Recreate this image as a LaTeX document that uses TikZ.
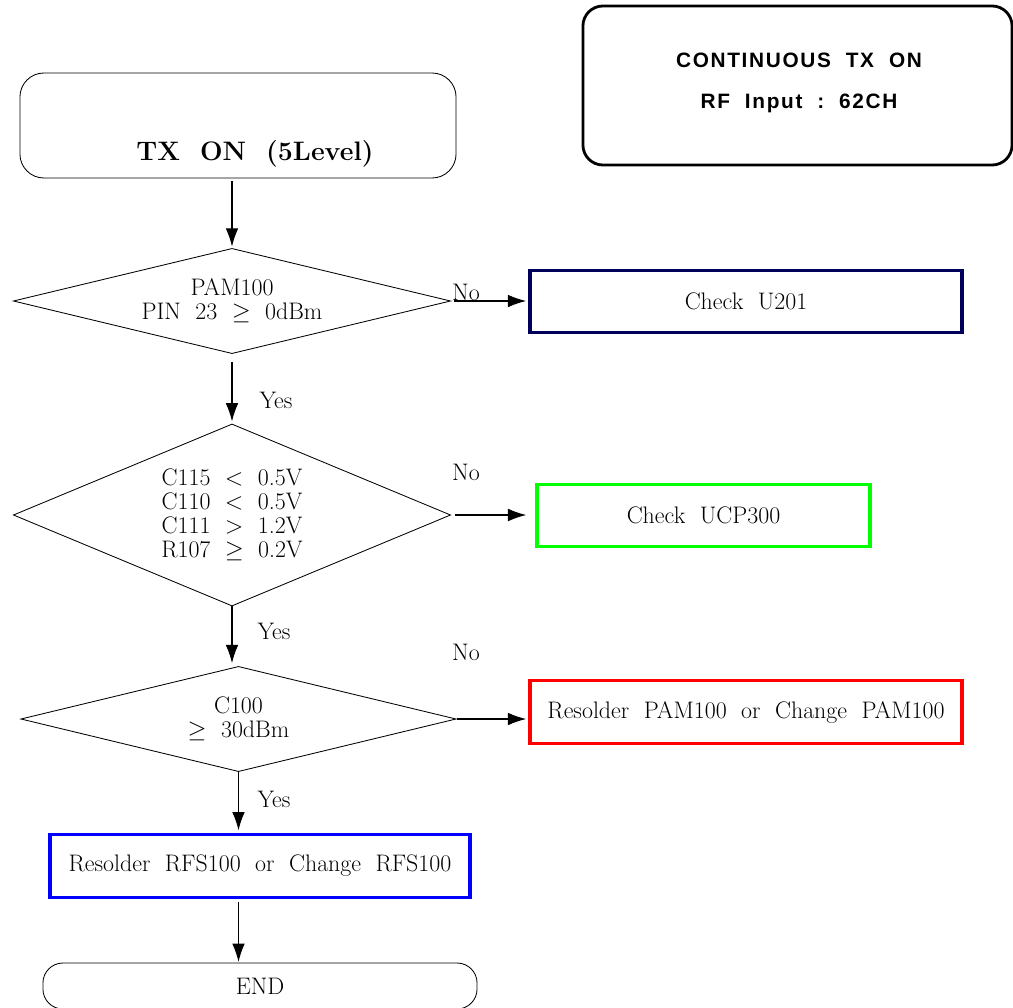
\documentclass[tikz,border=0pt]{standalone}
\usepackage{fontspec}
\usepackage{amssymb}
\usetikzlibrary{shapes,arrows.meta}
\newfontfamily\infofont[LetterSpace=8]{Liberation Sans}
\definecolor{navyline}{RGB}{0,0,90}
\definecolor{greenline}{RGB}{0,255,0}
\definecolor{redline}{RGB}{255,0,0}
\definecolor{blueline}{RGB}{0,0,255}

\begin{document}
\begin{tikzpicture}[x=0.025cm, y=-0.025cm,
				decision/.style={draw, diamond, aspect=#1, inner sep=0pt, line width=0.6pt, align=center},
				checkbox/.style={draw, rectangle, line width=2.4pt, minimum height=1.56cm},
				roundbox/.style={draw, rectangle, line width=0.6pt},
				flow/.style={->, line width=0.8pt},
				>={Latex[length=13pt,width=9pt]},   %Pfeilspitzen
				font={\fontsize{17}{17}\selectfont}]
				\useasboundingbox (0,0) rectangle (1013,1007);
				% Kopf
				\node[roundbox, line width=2pt, minimum width=10.725cm, minimum height=3.975cm, rounded corners=0.5cm] (info) at (797.5,85.5) {};
				\node[align=center, font={\infofont\bfseries\fontsize{14.8}{29}\selectfont}] (infotext) at (799,82.5) {CONTINUOUS~~TX~~ON\\RF~~Input~~:~~62CH};
				\node[roundbox, minimum width=10.9cm, minimum height=2.625cm, rounded corners=0.6cm] (start) at (238,125.5) {};
				\node[font={\fontsize{19}{22}\selectfont\bfseries}] (starttext) at (255,153.5) {TX~~ON~~(5Level)};
				% Abfragen
				\node[decision=4, minimum width=10.93cm, minimum height=2.63cm] (d1) at (232,301) {PAM100\\PIN~~23~~$\geq$~~0dBm};
				\node[decision=2.4, minimum width=10.93cm, minimum height=4.55cm] (d2) at (232,515) {C115~~$<$~~0.5V\\C110~~$<$~~0.5V\\C111~~$>$~~1.2V\\R107~~$\geq$~~0.2V};
				\node[decision=4, minimum width=10.88cm, minimum height=2.63cm] (d3) at (238.5,719) {C100\\$\geq$~~30dBm};
				% Massnahmen
				\node[checkbox, draw=navyline, minimum width=10.8cm] (u201) at (746,301.5) {Check~~U201};
				\node[checkbox, draw=greenline, minimum width=8.325cm] (ucp) at (703.5,515.5) {Check~~UCP300};
				\node[checkbox, draw=redline, minimum width=10.8cm] (pam) at (746,712) {Resolder~~PAM100~~or~~Change~~PAM100};
				\node[checkbox, draw=blueline, minimum width=10.5cm] (rfs) at (260,866) {Resolder~~RFS100~~or~~Change~~RFS100};
				\node[roundbox, minimum width=10.85cm, minimum height=1.15cm, rounded corners=0.5cm] (end) at (260,986) {END};
				% Beschriftungen
				\node (no1) at (466,292) {No};
				\node (no2) at (466,472) {No};
				\node (no3) at (466,652) {No};
				\node (yes1) at (276,400) {Yes};
				\node (yes2) at (274,631) {Yes};
				\node (yes3) at (274,799) {Yes};
				% Pfeile zeichnen
				\draw[flow, shorten <=2pt, shorten >=1pt] (start.south -| d1.north) -- (d1.north);
				\draw[flow, shorten <=2pt, shorten >=1.5pt] (d1.east) -- (d1.east -| u201.west);
				\draw[flow, shorten <=5.5pt, shorten >=1.5pt] (d1.south) -- (d2.north);
				\draw[flow, shorten <=3pt, shorten >=6.4pt] (d2.east) -- (d2.east -| ucp.west);
				\draw[flow, shorten >=2pt] (d2.south) -- (d2.south |- d3.north);
				\draw[flow, shorten >=1.5pt] (d3.east) -- (d3.east -| pam.west);
				\draw[flow, shorten >=2pt] (d3.south) -- (d3.south |- rfs.north);
				\draw[flow, shorten <=2pt, shorten >=0.5pt] (d3.south |- rfs.south) -- (d3.south |- end.north);
			\end{tikzpicture}
\end{document}
